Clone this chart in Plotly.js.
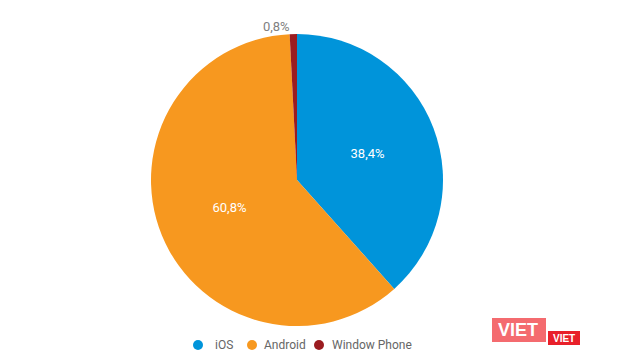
<!DOCTYPE html>
<html><head><meta charset="utf-8">
<script src="https://cdn.plot.ly/plotly-3.0.1.min.js"></script>
<style>html,body{margin:0;padding:0;background:#fff}#c{width:625px;height:358px}</style>
</head><body><div id="c"></div>
<script>
const labels = ['iOS', 'Android', 'Window Phone'];
const values = [38.4, 60.8, 0.8];
const colors = ['#0094DA', '#F7981F', '#9B1C20'];
const textPos = ['inside', 'inside', 'outside'];
const texts = values.map(v => v.toFixed(1).replace('.', ',') + '%');

const pie = {
  type: 'pie', labels: labels, values: values, text: texts,
  textinfo: 'text', textposition: textPos, sort: false, direction: 'clockwise', rotation: 0,
  marker: {colors: colors, line: {width: 0}},
  insidetextfont: {color: '#ffffff', size: 13, family: 'Roboto, Arial, sans-serif'},
  outsidetextfont: {color: '#808080', size: 13, family: 'Roboto, Arial, sans-serif'},
  insidetextorientation: 'horizontal', automargin: false, showlegend: false,
  hoverinfo: 'none'
};

const layout = {
  width: 625, height: 358,
  margin: {l: 151, r: 182, t: 34, b: 32, autoexpand: false},
  paper_bgcolor: '#ffffff', plot_bgcolor: 'rgba(0,0,0,0)',
  showlegend: false,
  font: {family: 'Roboto, Arial, sans-serif'}
};
const L = layout.margin.l, W = 625 - layout.margin.l - layout.margin.r;
const T = layout.margin.t, H = 358 - layout.margin.t - layout.margin.b;
const px = x => (x - L) / W, py = y => 1 - (y - T) / H;

// legend (manual, circle markers)
const legendCircleX = [198, 252, 319];
const legendTextX = [213, 262, 330];
const legendY = 345;
const shapes = [], annotations = [];
labels.forEach((l, i) => {
  shapes.push({type: 'circle', xref: 'paper', yref: 'paper',
    x0: px(legendCircleX[i] - 5), x1: px(legendCircleX[i] + 5),
    y0: py(legendY + 5), y1: py(legendY - 5),
    fillcolor: colors[i], line: {width: 0}, layer: 'above'});
  annotations.push({xref: 'paper', yref: 'paper', x: px(legendTextX[i]), y: py(legendY),
    xanchor: 'left', yanchor: 'middle', text: l, showarrow: false,
    font: {color: '#666666', size: 12, family: 'Roboto, Arial, sans-serif'}});
});

// watermark logo
shapes.push({type: 'rect', xref: 'paper', yref: 'paper', x0: px(492), x1: px(546), y0: py(342), y1: py(318),
   fillcolor: '#F46B6F', line: {width: 0}, layer: 'above'});
shapes.push({type: 'rect', xref: 'paper', yref: 'paper', x0: px(548), x1: px(580), y0: py(345), y1: py(331),
   fillcolor: '#E8202A', line: {width: 0}, layer: 'above'});
annotations.push({xref: 'paper', yref: 'paper', x: px(518), y: py(330), xanchor: 'center', yanchor: 'middle',
   text: '<b>VIET</b>', showarrow: false, font: {color: '#ffffff', size: 18, family: 'Arial, sans-serif'}});
annotations.push({xref: 'paper', yref: 'paper', x: px(564), y: py(338), xanchor: 'center', yanchor: 'middle',
   text: '<b>VIET</b>', showarrow: false, font: {color: '#ffffff', size: 10, family: 'Arial, sans-serif'}});
layout.shapes = shapes;
layout.annotations = annotations;

Plotly.newPlot('c', [pie], layout, {displayModeBar: false, staticPlot: true});
</script></body></html>
